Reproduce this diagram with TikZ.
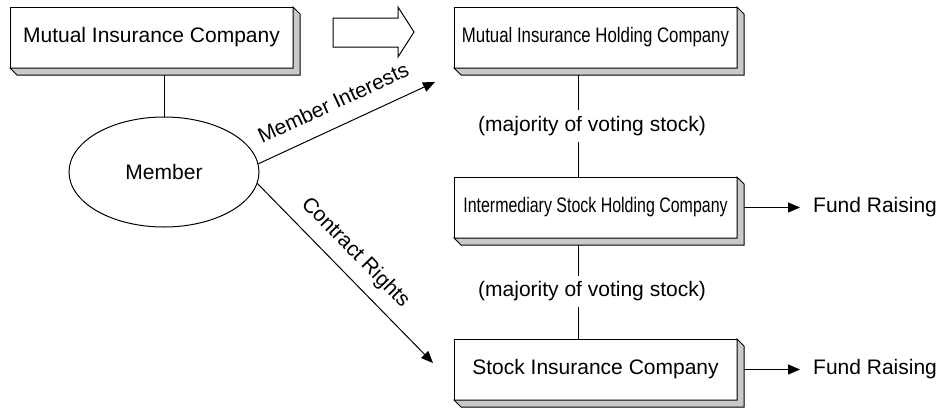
\documentclass[tikz,border=0pt]{standalone}
\usepackage{fontspec}
\setmainfont{Liberation Sans}
\usepackage{graphicx}
\usetikzlibrary{arrows.meta,positioning,shapes.geometric}
\definecolor{sidegray}{rgb}{0.79,0.79,0.79}

\tikzset{
  firm/.style={draw,line width=1pt,fill=white,minimum width=283pt,minimum height=61pt,inner sep=0pt,outer sep=0pt},
  tag/.style={inner sep=0pt},
  link/.style={line width=1pt},
  flow/.style={line width=1pt,-{Triangle[length=12pt,width=10pt]}},
  extrude/.style={draw,line width=1pt,fill=sidegray,line join=miter}
}

\begin{document}
\begin{tikzpicture}[x=1pt,y=-1pt,font=\fontsize{21}{25}\selectfont]
\useasboundingbox (0,0) rectangle (941,410);

% companies
\node[firm] (mic) at (151.5,37.5) {Mutual Insurance Company};
\node[firm] (mihc) at (595.5,37.5) {\scalebox{0.8}[1]{Mutual Insurance Holding Company}};
\node[firm,below=109pt of mihc] (ishc) {\scalebox{0.76}[1]{Intermediary Stock Holding Company}};
\node[firm,below=101pt of ishc] (sic) {Stock Insurance Company};
%% member
\node[draw,ellipse,line width=1pt,minimum width=190pt,minimum height=110pt,inner sep=0pt] (mem) at (164,172) {Member};
%% fund raising
\node[tag,right=76pt of ishc] (fr1) {Fund Raising};
\node[tag,right=76pt of sic] (fr2) {Fund Raising};

% conversion arrow
\draw [line width=1pt,fill=white,line join=miter] (333,18) -- (398,18) -- (398,7) -- (414,32) -- (398,57) -- (398,47) -- (333,47) -- cycle;

%% connectors
\coordinate (mitip) at (435,82);
\coordinate (crtip) at (433,363);
\coordinate (spine) at (578,0);
\draw [link] (mem.north) -- (mem.north |- mic.south);
\draw [link] (mihc.south -| spine) -- node[pos=0.53,fill=white,inner xsep=2pt,inner ysep=6pt,xshift=14pt] {(majority of voting stock)} (ishc.north -| spine);
\draw [link] (ishc.south -| spine) -- node[pos=0.53,fill=white,inner xsep=2pt,inner ysep=6pt,xshift=14pt] {(majority of voting stock)} (sic.north -| spine);
\draw [flow] (mem.5) -- node[tag,sloped,above=16pt,pos=0.48] {Member Interests} (mitip);
\draw [flow] (mem.-7) -- node[tag,sloped,above=11pt,pos=0.47] {Contract Rights} (crtip);
\draw [flow,shorten >=13pt] (ishc.east) -- (fr1.west);
\draw [flow,shorten >=13pt] (sic.east) -- (fr2.west);

% extruded sides
\foreach \b in {mic,mihc,ishc,sic}
  \draw [extrude] (\b.north east) -- ++(7,7) -- ([shift={(7,7)}]\b.south east) -- ([shift={(7,7)}]\b.south west) -- (\b.south west) -- (\b.south east) -- cycle;

\end{tikzpicture}
\end{document}
